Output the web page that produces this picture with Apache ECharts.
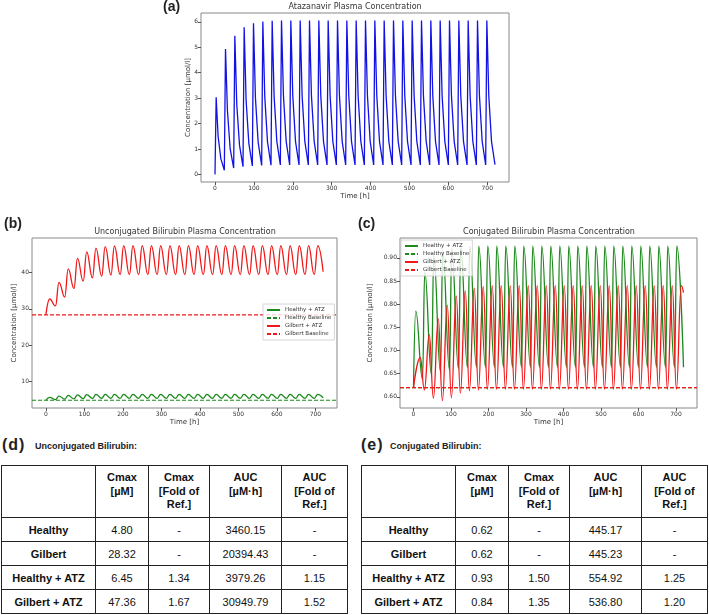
<!DOCTYPE html>
<html lang="en">
<head>
<meta charset="utf-8">
<title>Atazanavir and bilirubin plasma concentrations</title>
<script src="https://cdn.jsdelivr.net/npm/echarts@6/dist/echarts.min.js"></script>
<style>
    body { margin: 0; width: 709px; height: 615px; position: relative; background: #fff; overflow: hidden;
           font-family: 'Liberation Sans', Arial, sans-serif; }
    #main { position: absolute; left: 0; top: 0; width: 709px; height: 432px; }
    .tag { position: absolute; top: 436px; line-height: 18px; font-size: 16px; font-weight: bold; color: #222; letter-spacing: 1px; }
    .cap { position: absolute; top: 439px; line-height: 14px; font-size: 9px; font-weight: bold; color: #222; white-space: nowrap; }
    table.pk { position: absolute; top: 465px; border-collapse: collapse; table-layout: fixed; font-size: 11px; color: #111; }
    table.pk td, table.pk th { border: 1.5px solid #222; text-align: center; padding: 0; }
    table.pk th { font-weight: bold; line-height: 13.5px; vertical-align: top; padding-top: 5px; height: 46px; }
    table.pk td { height: 23px; }
    table.pk td.r { font-weight: bold; }
</style>
</head>
<body>
<div id="main"></div>
<div class="tag" style="left:2px">(d)</div>
<div class="cap" style="left:35px">Unconjugated Bilirubin:</div>
<div class="tag" style="left:361px">(e)</div>
<div class="cap" style="left:390px">Conjugated Bilirubin:</div>
<table class="pk" id="tabD" style="left:1px;width:346px"></table>
<table class="pk" id="tabE" style="left:361px;width:346px"></table>
<script>
// dosing schedule (h)
var dosingInterval = 24;
var tEnd = 720;
var xTicks = [0, 100, 200, 300, 400, 500, 600, 700];

// (a) atazanavir: value at t=0, peak each cycle (~3 h after dose), readings 8 h / 15 h after dose, pre-dose troughs
var atzStart = 0;
var atzPeaks = [3.03, 4.93, 5.45, 5.79, 5.95, 6.01, 6.04, 6.05, 6.05, 6.05, 6.05, 6.05, 6.05, 6.05, 6.05,
                6.05, 6.05, 6.05, 6.05, 6.05, 6.05, 6.05, 6.05, 6.05, 6.05, 6.05, 6.05, 6.05, 6.05, 6.05];
var atzAt8h = [1.5, 2.5, 2.75, 2.92, 3.0, 3.05, 3.08, 3.1, 3.1, 3.1, 3.1, 3.1, 3.1, 3.1, 3.1,
               3.1, 3.1, 3.1, 3.1, 3.1, 3.1, 3.1, 3.1, 3.1, 3.1, 3.1, 3.1, 3.1, 3.1, 3.1];
var atzAt15h = [0.62, 1.0, 1.15, 1.22, 1.26, 1.28, 1.3, 1.3, 1.3, 1.3, 1.3, 1.3, 1.3, 1.3, 1.3,
                1.3, 1.3, 1.3, 1.3, 1.3, 1.3, 1.3, 1.3, 1.3, 1.3, 1.3, 1.3, 1.3, 1.3, 1.3];
var atzTroughs = [0.16, 0.25, 0.3, 0.33, 0.35, 0.36, 0.37, 0.37, 0.37, 0.37, 0.37, 0.37, 0.37, 0.37, 0.37,
                  0.37, 0.37, 0.37, 0.37, 0.37, 0.37, 0.37, 0.37, 0.37, 0.37, 0.37, 0.37, 0.37, 0.37];
var atzEnd = 0.38;

// (b) unconjugated bilirubin [µmol/l]
var uncHealthyBase = 4.80;
var uncGilbertBase = 28.32;
var uncHealthyPeaks = [5.6, 5.95, 6.15, 6.28, 6.36, 6.41, 6.43, 6.45, 6.45, 6.45, 6.45, 6.45, 6.45, 6.45, 6.45,
                       6.45, 6.45, 6.45, 6.45, 6.45, 6.45, 6.45, 6.45, 6.45, 6.45, 6.45, 6.45, 6.45, 6.45, 6.45];
var uncHealthyTroughs = [5.0, 5.12, 5.2, 5.26, 5.3, 5.32, 5.33, 5.34, 5.34, 5.34, 5.34, 5.34, 5.34, 5.34, 5.34,
                         5.34, 5.34, 5.34, 5.34, 5.34, 5.34, 5.34, 5.34, 5.34, 5.34, 5.34, 5.34, 5.34, 5.34];
var uncHealthyEnd = 5.5;
var uncGilbertPeaks = [32.7, 37.3, 41.0, 43.9, 45.7, 46.7, 47.1, 47.3, 47.36, 47.36, 47.36, 47.36, 47.36, 47.36, 47.36,
                       47.36, 47.36, 47.36, 47.36, 47.36, 47.36, 47.36, 47.36, 47.36, 47.36, 47.36, 47.36, 47.36, 47.36, 47.36];
var uncGilbertTroughs = [30.8, 33.2, 35.6, 37.6, 38.5, 39.0, 39.3, 39.4, 39.4, 39.4, 39.4, 39.4, 39.4, 39.4, 39.4,
                         39.4, 39.4, 39.4, 39.4, 39.4, 39.4, 39.4, 39.4, 39.4, 39.4, 39.4, 39.4, 39.4, 39.4];
var uncGilbertEnd = 40.2;

// (c) conjugated bilirubin [µmol/l]
var conHealthyBase = 0.62;
var conGilbertBase = 0.62;
var conHealthyPeaks = [0.785, 0.87, 0.905, 0.916, 0.921, 0.924, 0.925, 0.926, 0.926, 0.926, 0.926, 0.926, 0.926, 0.926, 0.926,
                       0.926, 0.926, 0.926, 0.926, 0.926, 0.926, 0.926, 0.926, 0.926, 0.926, 0.926, 0.926, 0.926, 0.926, 0.926];
var conHealthyTroughs = [0.638, 0.648, 0.654, 0.658, 0.661, 0.663, 0.664, 0.664, 0.664, 0.664, 0.664, 0.664, 0.664, 0.664, 0.664,
                         0.664, 0.664, 0.664, 0.664, 0.664, 0.664, 0.664, 0.664, 0.664, 0.664, 0.664, 0.664, 0.664, 0.664];
var conHealthyEnd = 0.664;
var conGilbertPeaks = [0.685, 0.735, 0.769, 0.798, 0.818, 0.829, 0.835, 0.838, 0.84, 0.84, 0.84, 0.84, 0.84, 0.84, 0.84,
                       0.84, 0.84, 0.84, 0.84, 0.84, 0.84, 0.84, 0.84, 0.84, 0.84, 0.84, 0.84, 0.84, 0.84, 0.84];
var conGilbertTroughs = [0.615, 0.597, 0.592, 0.598, 0.608, 0.613, 0.615, 0.616, 0.616, 0.616, 0.616, 0.616, 0.616, 0.616, 0.616,
                         0.616, 0.616, 0.616, 0.616, 0.616, 0.616, 0.616, 0.616, 0.616, 0.616, 0.616, 0.616, 0.616, 0.616];
var conGilbertEnd = 0.825;

// (d), (e) tables
var rowNames = ['Healthy', 'Gilbert', 'Healthy + ATZ', 'Gilbert + ATZ'];
var headLines = [['Cmax', '[µM]'], ['Cmax', '[Fold of', 'Ref.]'], ['AUC', '[µM·h]'], ['AUC', '[Fold of', 'Ref.]']];
var uncCmax = [4.80, 28.32, 6.45, 47.36];
var uncCmaxFold = [null, null, 1.34, 1.67];
var uncAuc = [3460.15, 20394.43, 3979.26, 30949.79];
var uncAucFold = [null, null, 1.15, 1.52];
var conCmax = [0.62, 0.62, 0.93, 0.84];
var conCmaxFold = [null, null, 1.50, 1.35];
var conAuc = [445.17, 445.23, 554.92, 536.80];
var conAucFold = [null, null, 1.25, 1.20];

// one point per peak / trough of each dosing cycle
function cycleCurve(start, peaks, troughs, end, peakAt, troughAt, extra) {
    var pts = [[0, start]];
    for (var k = 0; k < peaks.length; k++) {
        var t0 = k * dosingInterval;
        pts.push([t0 + peakAt, peaks[k]]);
        (extra || []).forEach(function (e) { pts.push([t0 + e.at, e.values[k]]); });
        if (k < troughs.length) pts.push([t0 + dosingInterval + troughAt, troughs[k]]);
    }
    pts.push([tEnd, end]);
    return pts;
}

var xMin = -36, xMax = 756;
function baseline(v) { return [[xMin, v], [xMax, v]]; }

var font = "'DejaVu Sans', sans-serif";
var txt = '#333';

function xAxis(gi) {
    return {
        type: 'value', gridIndex: gi, min: xMin, max: xMax,
        name: 'Time [h]', nameLocation: 'middle', nameGap: 11, nameMoveOverlap: false,
        nameTextStyle: { fontSize: 7, color: txt, fontFamily: font },
        axisLine: { show: false, onZero: false }, splitLine: { show: false },
        axisTick: { show: true, customValues: xTicks, length: 3, lineStyle: { color: '#555' } },
        axisLabel: { customValues: xTicks, fontSize: 6, color: txt, margin: 3, fontFamily: font }
    };
}
function yAxis(gi, min, max, ticks, dec, gap) {
    return {
        type: 'value', gridIndex: gi, min: min, max: max,
        name: 'Concentration [µmol/l]', nameLocation: 'middle', nameGap: gap, nameMoveOverlap: false,
        nameTextStyle: { fontSize: 7, color: txt, fontFamily: font },
        axisLine: { show: false, onZero: false }, splitLine: { show: false },
        axisTick: { show: true, customValues: ticks, length: 3, lineStyle: { color: '#555' } },
        axisLabel: { customValues: ticks, fontSize: 6, color: txt, margin: 3, fontFamily: font,
                     formatter: function (v) { return v.toFixed(dec); } }
    };
}
function curve(name, gi, data, color, smooth) {
    return {
        name: name, type: 'line', xAxisIndex: gi, yAxisIndex: gi, data: data,
        symbol: 'none', smooth: smooth ? 0.45 : false, smoothMonotone: smooth ? 'x' : undefined,
        lineStyle: { color: color, width: 1.3 }, itemStyle: { color: color }
    };
}
function dashed(name, gi, v, color, z) {
    return {
        name: name, type: 'line', xAxisIndex: gi, yAxisIndex: gi, data: baseline(v), z: z || 2,
        symbol: 'none', lineStyle: { color: color, width: 1.1, type: [4, 2] }, itemStyle: { color: color }
    };
}
function legendAt(left, top) {
    return {
        left: left, top: top, orient: 'vertical', itemWidth: 13, itemHeight: 6, itemGap: 2,
        padding: [3, 3], backgroundColor: 'rgba(255,255,255,0.8)', borderColor: '#ccc', borderWidth: 0.8,
        itemStyle: { opacity: 0 },
        textStyle: { fontSize: 5.5, color: txt, fontFamily: font },
        data: ['Healthy + ATZ', 'Healthy Baseline', 'Gilbert + ATZ', 'Gilbert Baseline']
    };
}
function heading(text, left, top, centred) {
    var t = { text: text, left: left, top: top, padding: 0,
              textStyle: { fontSize: 8, fontWeight: 'normal', color: txt, fontFamily: font } };
    if (centred) t.textAlign = 'center';
    return t;
}
function panelTag(text, left, top) {
    return { text: text, left: left, top: top, padding: 0,
             textStyle: { fontSize: 14, fontWeight: 'bold', color: '#222', fontFamily: 'Liberation Sans' } };
}

var blue = '#1212e6', green = '#1b8a1b', red = '#f01818';

var chart = echarts.init(document.getElementById('main'));
chart.setOption({
    animation: false,
    textStyle: { fontFamily: font },
    title: [
        panelTag('(a)', 163, 0),
        heading('Atazanavir Plasma Concentration', 355, 3, true),
        panelTag('(b)', 4, 217),
        heading('Unconjugated Bilirubin Plasma Concentration', 185, 228, true),
        panelTag('(c)', 358, 217),
        heading('Conjugated Bilirubin Plasma Concentration', 549, 228, true)
    ],
    grid: [
        { left: 201, top: 13, width: 308, height: 169, show: true, borderColor: '#888', borderWidth: 1 },
        { left: 32, top: 238, width: 305, height: 170, show: true, borderColor: '#888', borderWidth: 1 },
        { left: 400, top: 238, width: 297, height: 170, show: true, borderColor: '#888', borderWidth: 1 }
    ],
    xAxis: [xAxis(0), xAxis(1), xAxis(2)],
    yAxis: [
        yAxis(0, -0.30, 6.35, [0, 1, 2, 3, 4, 5, 6], 0, 9),
        yAxis(1, 2.67, 49.5, [10, 20, 30, 40], 0, 14),
        yAxis(2, 0.576, 0.943, [0.60, 0.65, 0.70, 0.75, 0.80, 0.85, 0.90], 2, 26)
    ],
    legend: [legendAt(263, 304), legendAt(401, 240)],
    series: [
        curve('Atazanavir', 0, cycleCurve(atzStart, atzPeaks, atzTroughs, atzEnd, 3, 0,
            [{ at: 8, values: atzAt8h }, { at: 15, values: atzAt15h }]), blue, false),

        curve('Healthy + ATZ', 1, cycleCurve(uncHealthyBase, uncHealthyPeaks, uncHealthyTroughs, uncHealthyEnd, 10, 1), green, true),
        dashed('Healthy Baseline', 1, uncHealthyBase, green),
        curve('Gilbert + ATZ', 1, cycleCurve(uncGilbertBase, uncGilbertPeaks, uncGilbertTroughs, uncGilbertEnd, 10, 1), red, true),
        dashed('Gilbert Baseline', 1, uncGilbertBase, red),

        curve('Healthy + ATZ', 2, cycleCurve(conHealthyBase, conHealthyPeaks, conHealthyTroughs, conHealthyEnd, 6, 0), green, true),
        dashed('Healthy Baseline', 2, conHealthyBase, green, 1),
        curve('Gilbert + ATZ', 2, cycleCurve(conGilbertBase, conGilbertPeaks, conGilbertTroughs, conGilbertEnd, 18, 5), red, true),
        dashed('Gilbert Baseline', 2, conGilbertBase, red, 3)
    ]
});

// tables
function fmt(v) { return v === null ? '-' : v.toFixed(2); }
function fillTable(id, cols) {
    var widths = [94, 53, 61, 72, 66];
    var html = '<colgroup>' + widths.map(function (w) { return '<col style="width:' + w + 'px">'; }).join('') + '</colgroup>';
    html += '<tr><th></th>' + headLines.map(function (l) { return '<th>' + l.join('<br>') + '</th>'; }).join('') + '</tr>';
    rowNames.forEach(function (name, i) {
        html += '<tr><td class="r">' + name + '</td>' + cols.map(function (c) { return '<td>' + fmt(c[i]) + '</td>'; }).join('') + '</tr>';
    });
    document.getElementById(id).innerHTML = html;
}
fillTable('tabD', [uncCmax, uncCmaxFold, uncAuc, uncAucFold]);
fillTable('tabE', [conCmax, conCmaxFold, conAuc, conAucFold]);
</script>
</body>
</html>
